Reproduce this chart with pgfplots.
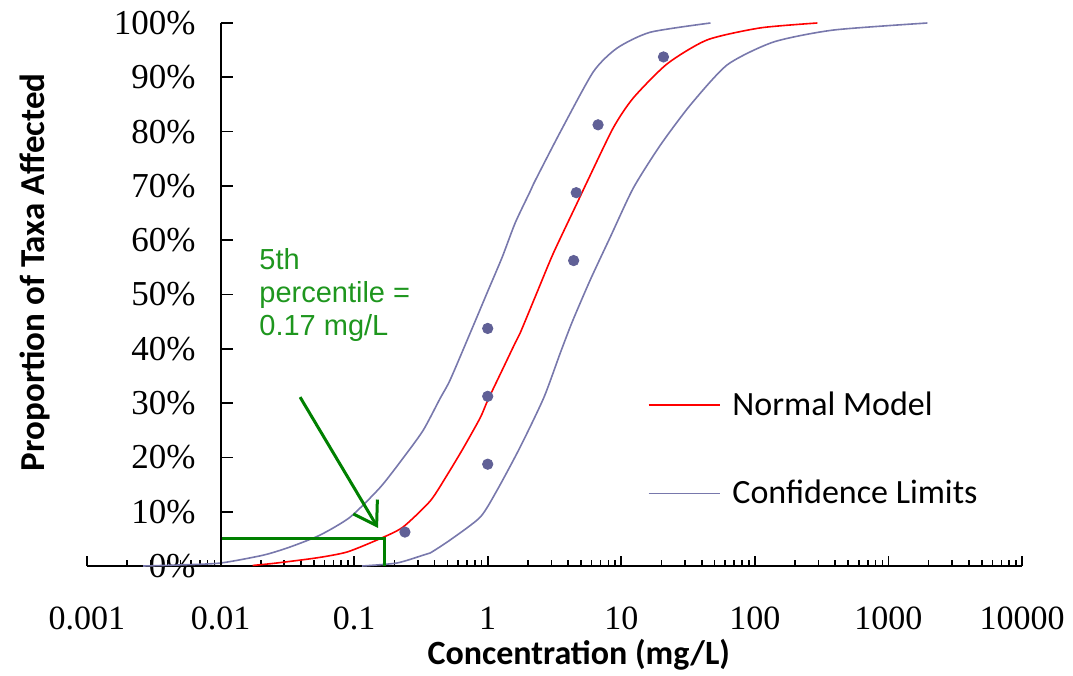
\documentclass[border=0pt]{standalone}
\usepackage{fontspec}
\setmainfont{Liberation Serif}
\newfontfamily\calibri{Carlito}
\newfontfamily\arial{Liberation Sans}
\usepackage{pgfplots}
\pgfplotsset{compat=1.18}
\usetikzlibrary{arrows.meta}
\definecolor{modelred}{RGB}{255,0,0}
\definecolor{limitblue}{RGB}{120,120,172}
\definecolor{pointblue}{RGB}{96,96,150}
\definecolor{annogreen}{RGB}{0,128,0}
\definecolor{textgreen}{RGB}{30,150,30}

\begin{document}
\begin{tikzpicture}
\begin{axis}[
  name=ax,
  scale only axis,
  width=467.5pt, height=271.5pt,
  xmode=log, log basis x=10,
  xmin=0.001, xmax=10000, ymin=0, ymax=100,
  enlargelimits=false,
  clip=false,
  axis x line*=bottom, axis y line*=left,
  axis y line shift=-66.79pt,
  axis line style={black, line width=1pt},
  tick align=inside,
  major tick length=5pt, minor tick length=3pt,
  tick style={black, line width=0.8pt},
  xtick={0.001,0.01,0.1,1,10,100,1000,10000},
  xticklabels={0.001,0.01,0.1,1,10,100,1000,10000},
  minor xtick={0.002,0.003,0.004,0.005,0.006,0.007,0.008,0.009,
    0.02,0.03,0.04,0.05,0.06,0.07,0.08,0.09,
    0.2,0.3,0.4,0.5,0.6,0.7,0.8,0.9,
    2,3,4,5,6,7,8,9,20,30,40,50,60,70,80,90,
    200,300,400,500,600,700,800,900,
    2000,3000,4000,5000,6000,7000,8000,9000},
  ytick={0,10,20,30,40,50,60,70,80,90,100},
  yticklabels={0\%,10\%,20\%,30\%,40\%,50\%,60\%,70\%,80\%,90\%,100\%},
  xticklabel style={font=\fontsize{17}{20}\selectfont, yshift=-17pt},
  yticklabel style={font=\fontsize{17.5}{20}\selectfont, xshift=-9pt},
  xlabel={Concentration (mg/L)},
  xlabel style={font=\calibri\bfseries\fontsize{17}{20}\selectfont,
    at={(axis description cs:0.526,-0.164)}, anchor=center},
  ylabel={Proportion of Taxa Affected},
  ylabel style={font=\calibri\bfseries\fontsize{17.5}{20}\selectfont,
    at={(axis description cs:-0.0556,0.541)}, anchor=center},
  legend style={at={(axis cs:15.7,21.5)}, anchor=west, draw=none, fill=none,
    inner sep=0pt, row sep=27pt,
    font=\calibri\fontsize{17}{19}\selectfont,
    /tikz/every odd column/.append style={column sep=4pt}},
  legend cell align=left,
  legend image code/.code={\draw[#1] (0pt,0pt) -- (35.5pt,0pt);},
]

% fitted normal model
\addplot[modelred, line width=0.8pt, smooth, tension=0.4] table {
x y
0.0174 0.1
0.0263 0.55
0.0525 1.5
0.0891 2.6
0.162 5.2
0.233 7.2
0.372 12.0
0.498 16.8
0.656 21.7
0.879 27.3
1.0 30.5
1.285 36.1
1.607 41.1
1.75 42.9
2.35 50.5
3.10 57.6
4.68 66.9
5.56 70.8
8.71 80.7
12.3 86.2
22.1 92.5
44.1 96.9
110 99.1
294 100
};
\addlegendentry{Normal Model}

% upper confidence limit (left curve)
\addplot[limitblue, line width=0.8pt, smooth, tension=0.4] table {
x y
0.00263 0
0.00501 0.2
0.01 0.55
0.0209 2.0
0.0331 3.5
0.0556 5.7
0.0933 9.0
0.157 14.5
0.233 19.9
0.329 25.0
0.441 30.9
0.524 34.3
0.766 43.8
1.009 50.8
1.285 56.9
1.607 63.2
2.08 69.0
2.27 71.0
3.49 79.9
6.17 91.0
9.33 95.4
16.5 98.3
46.5 100
};
\addlegendentry{Confidence Limits}

% lower confidence limit (right curve)
\addplot[limitblue, line width=0.8pt, smooth, tension=0.4, forget plot] table {
x y
0.1148 0
0.209 0.55
0.329 2.0
0.371 2.4
0.524 4.8
0.879 9.0
1.178 14.0
1.75 21.9
2.63 31.0
3.49 39.2
4.30 45.0
5.86 52.7
8.28 60.6
12.3 69.6
19.6 77.5
32.9 84.9
62.2 92.3
138 96.5
387 98.7
1959 100
};

% observed taxa
\addplot[only marks, mark=*, mark size=2.6pt, pointblue, forget plot] table {
x y
0.24 6.25
1.0 18.75
1.0 31.25
1.0 43.75
4.4 56.25
4.6 68.75
6.7 81.25
20.7 93.75
};

% 5th percentile marker
\addplot[annogreen, line width=1.5pt, forget plot] coordinates {
(0.01,5) (0.17,5) (0.17,0)
};
\draw[annogreen, line width=1.5pt, -{Straight Barb[length=11pt,width=14pt]}]
  (axis cs:0.0394,31.1) -- (axis cs:0.151,7.0);
\node[anchor=north west, align=left, inner sep=0pt, text=textgreen,
  font=\arial\fontsize{14.5}{16.5}\selectfont]
  at (axis cs:0.0194,58.5) {5th\\percentile =\\0.17 mg/L};
\end{axis}
% y axis line at x = 0.01 (one decade in from the left end), ticks pointing right
\fill[black] ([xshift=66.29pt]ax.south west) rectangle ([xshift=67.29pt]ax.north west);
\foreach \k in {1,...,10} {
  \fill[black] ([xshift=66.79pt, yshift=\k*27.15pt-0.4pt]ax.south west) rectangle ++(6pt,0.8pt);
}
\pgfresetboundingbox
\useasboundingbox ([shift={(-43.5pt,-54.5pt)}]ax.south west)
  rectangle ([shift={(25.5pt,11.5pt)}]ax.north east);
\end{tikzpicture}
\end{document}
